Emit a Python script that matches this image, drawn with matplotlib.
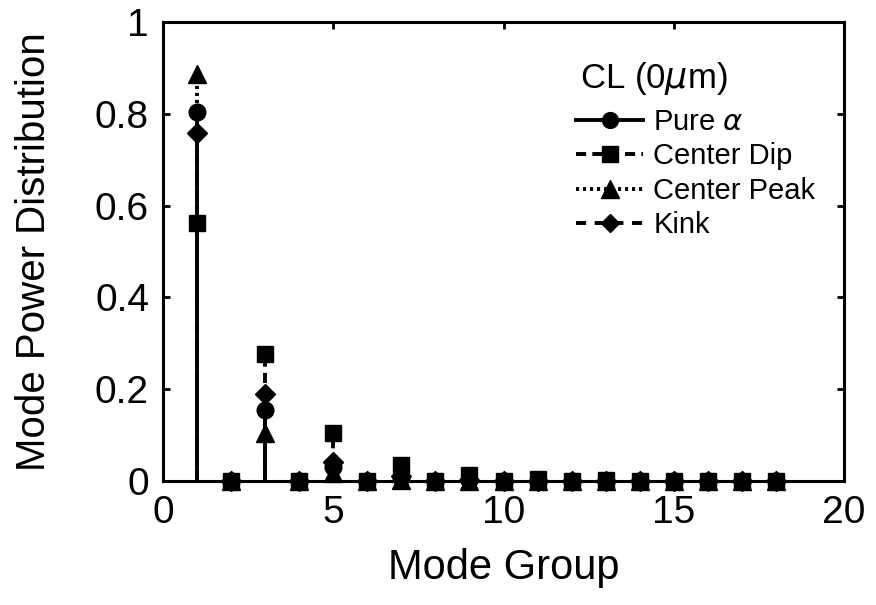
import numpy as np
import matplotlib.pyplot as plt
from matplotlib.lines import Line2D

plt.rcParams['font.family'] = ['Liberation Sans', 'DejaVu Sans']
plt.rcParams['mathtext.fontset'] = 'dejavusans'

# Mode groups 1..18
modes = np.arange(1, 19)

# Mode power distribution per profile
pure_alpha = [0.804, 0, 0.155, 0, 0.030, 0, 0.006, 0, 0.002, 0, 0.001, 0, 0, 0, 0, 0, 0, 0]
center_dip = [0.563, 0, 0.277, 0, 0.105, 0, 0.034, 0, 0.012, 0, 0.005, 0, 0.003, 0, 0.001, 0, 0, 0]
center_peak = [0.887, 0, 0.105, 0, 0.018, 0, 0.003, 0, 0.001, 0, 0, 0, 0, 0, 0, 0, 0, 0]
kink = [0.759, 0, 0.189, 0, 0.041, 0, 0.010, 0, 0.003, 0, 0.001, 0, 0, 0, 0, 0, 0, 0]

series = [
    ("Pure $\\alpha$", pure_alpha, "-", "o", 12),
    ("Center Dip", center_dip, (0, (2.6, 1.6)), "s", 11.5),
    ("Center Peak", center_peak, (0, (0.8, 1.0)), "^", 13),
    ("Kink", kink, (0, (2.6, 2.2)), "D", 10),
]

fig = plt.figure(figsize=(8.76, 6.05), dpi=100)
ax = fig.add_axes([163 / 876, 1 - 481 / 605, (844 - 163) / 876, (481 - 22) / 605])

lw = 2.8
handles = []
for label, vals, ls, mk, ms in series:
    ax.vlines(modes, 0, vals, colors="black", linestyles=[ls], linewidth=lw, zorder=2)
    ax.plot(modes, vals, linestyle="none", marker=mk, markersize=ms,
            color="black", zorder=3, clip_on=False)
    handles.append(Line2D([], [], color="black", linestyle=ls, linewidth=lw,
                          marker=mk, markersize=ms * 0.95, label=label))

ax.set_xlim(0, 20)
ax.set_ylim(0, 1)
ax.set_xticks([0, 5, 10, 15, 20])
ax.set_yticks([0, 0.2, 0.4, 0.6, 0.8, 1])
ax.set_yticklabels(["0", "0.2", "0.4", "0.6", "0.8", "1"])
ax.tick_params(direction="in", length=5, width=2, labelsize=28,
               top=True, right=True, pad=10)
for s in ax.spines.values():
    s.set_linewidth(2.2)

ax.set_xlabel("Mode Group", fontsize=30, labelpad=12)
ax.set_ylabel("Mode Power Distribution", fontsize=29, labelpad=30)

ax.text(580 / 876, 1 - 88 / 605, "CL (0$\\mu$m)", transform=fig.transFigure,
        fontsize=25, ha="left", va="baseline")

leg = ax.legend(handles=handles, loc="upper left",
                bbox_to_anchor=(576 / 876, 1 - 108 / 605),
                bbox_transform=fig.transFigure, frameon=False, fontsize=21,
                handlelength=2.3, handletextpad=0.35, labelspacing=0.22,
                borderpad=0, borderaxespad=0)

fig.savefig("out.png", dpi=100)
